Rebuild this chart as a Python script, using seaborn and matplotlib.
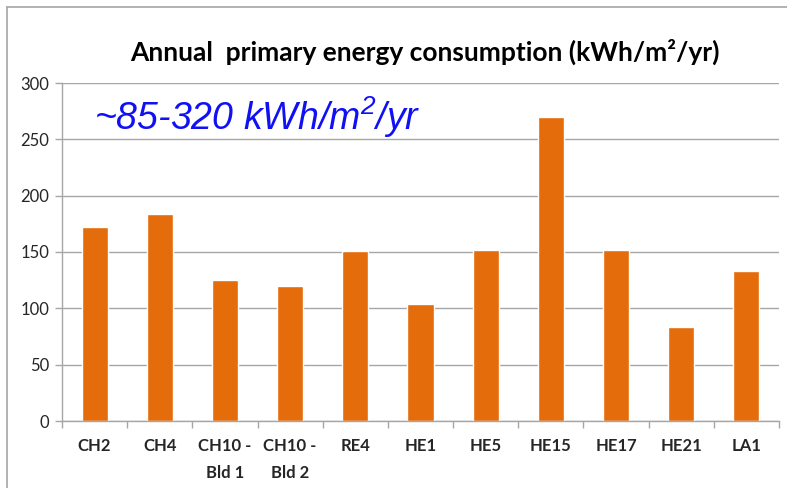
import matplotlib
matplotlib.use("Agg")
import matplotlib.pyplot as plt
import seaborn as sns
import numpy as np
from matplotlib.lines import Line2D
from matplotlib.ticker import FixedLocator

# data
sites = ["CH2", "CH4", "CH10 -\nBld 1", "CH10 -\nBld 2", "RE4", "HE1",
         "HE5", "HE15", "HE17", "HE21", "LA1"]
energy = [172, 184, 125, 120, 151, 104, 152, 270, 152, 83, 133]
y_ticks = [0, 50, 100, 150, 200, 250, 300]

BAR_COLOR = "#E46C0A"
GRID_COLOR = "#A6A6A6"

sns.set_theme(style="white")
plt.rcParams["font.family"] = ["Lato", "DejaVu Sans"]
plt.rcParams["mathtext.fontset"] = "custom"
plt.rcParams["mathtext.rm"] = "Liberation Sans:italic"
plt.rcParams["mathtext.it"] = "Liberation Sans:italic"

fig = plt.figure(figsize=(7.87, 4.88), dpi=100)
ax = fig.add_axes([62 / 787, 1 - 421 / 488, (779 - 62) / 787, (421 - 83) / 488])

sns.barplot(x=sites, y=energy, color=BAR_COLOR, saturation=1, width=0.4, ax=ax)

ax.set_ylim(0, 300)
ax.set_xlim(-0.5, len(sites) - 0.5)
ax.set_yticks(y_ticks)
ax.yaxis.grid(True, color=GRID_COLOR, linewidth=1)
ax.set_axisbelow(True)

for side in ["top", "right"]:
    ax.spines[side].set_visible(False)
for side in ["left", "bottom"]:
    ax.spines[side].set_color(GRID_COLOR)
    ax.spines[side].set_linewidth(1)

# excel style category ticks between bars
ax.xaxis.set_minor_locator(FixedLocator(np.arange(-0.5, len(sites), 1.0)))
ax.tick_params(axis="x", which="major", length=0, pad=12)
ax.tick_params(axis="x", which="minor", length=5, color=GRID_COLOR, width=1, bottom=True)
ax.tick_params(axis="y", length=5, color=GRID_COLOR, width=1, left=True, labelsize=12, pad=4)
for lbl in ax.get_xticklabels():
    lbl.set_fontweight("bold")
    lbl.set_fontsize(12)
    lbl.set_linespacing(1.9)
ax.set_xlabel("")
ax.set_ylabel("")

fig.text(425 / 787, 1 - 52 / 488, "Annual  primary energy consumption (kWh/m\u00b2/yr)",
         ha="center", va="center", fontsize=19, fontweight="bold", color="black")
ax.text(0.045, 0.965, "~85-320 kWh/m$^{2}$/yr", transform=ax.transAxes,
        ha="left", va="top", fontsize=27, style="italic", color="#1010F5",
        family=["Liberation Sans", "DejaVu Sans"])

# chart frame (left and top edges visible)
fig.add_artist(Line2D([7 / 787, 7 / 787], [0, 1 - 7 / 488], color=GRID_COLOR, lw=1.2,
                      transform=fig.transFigure))
fig.add_artist(Line2D([7 / 787, 1], [1 - 7 / 488, 1 - 7 / 488], color=GRID_COLOR, lw=1.2,
                      transform=fig.transFigure))

fig.savefig("out.png", dpi=100, facecolor="white")
